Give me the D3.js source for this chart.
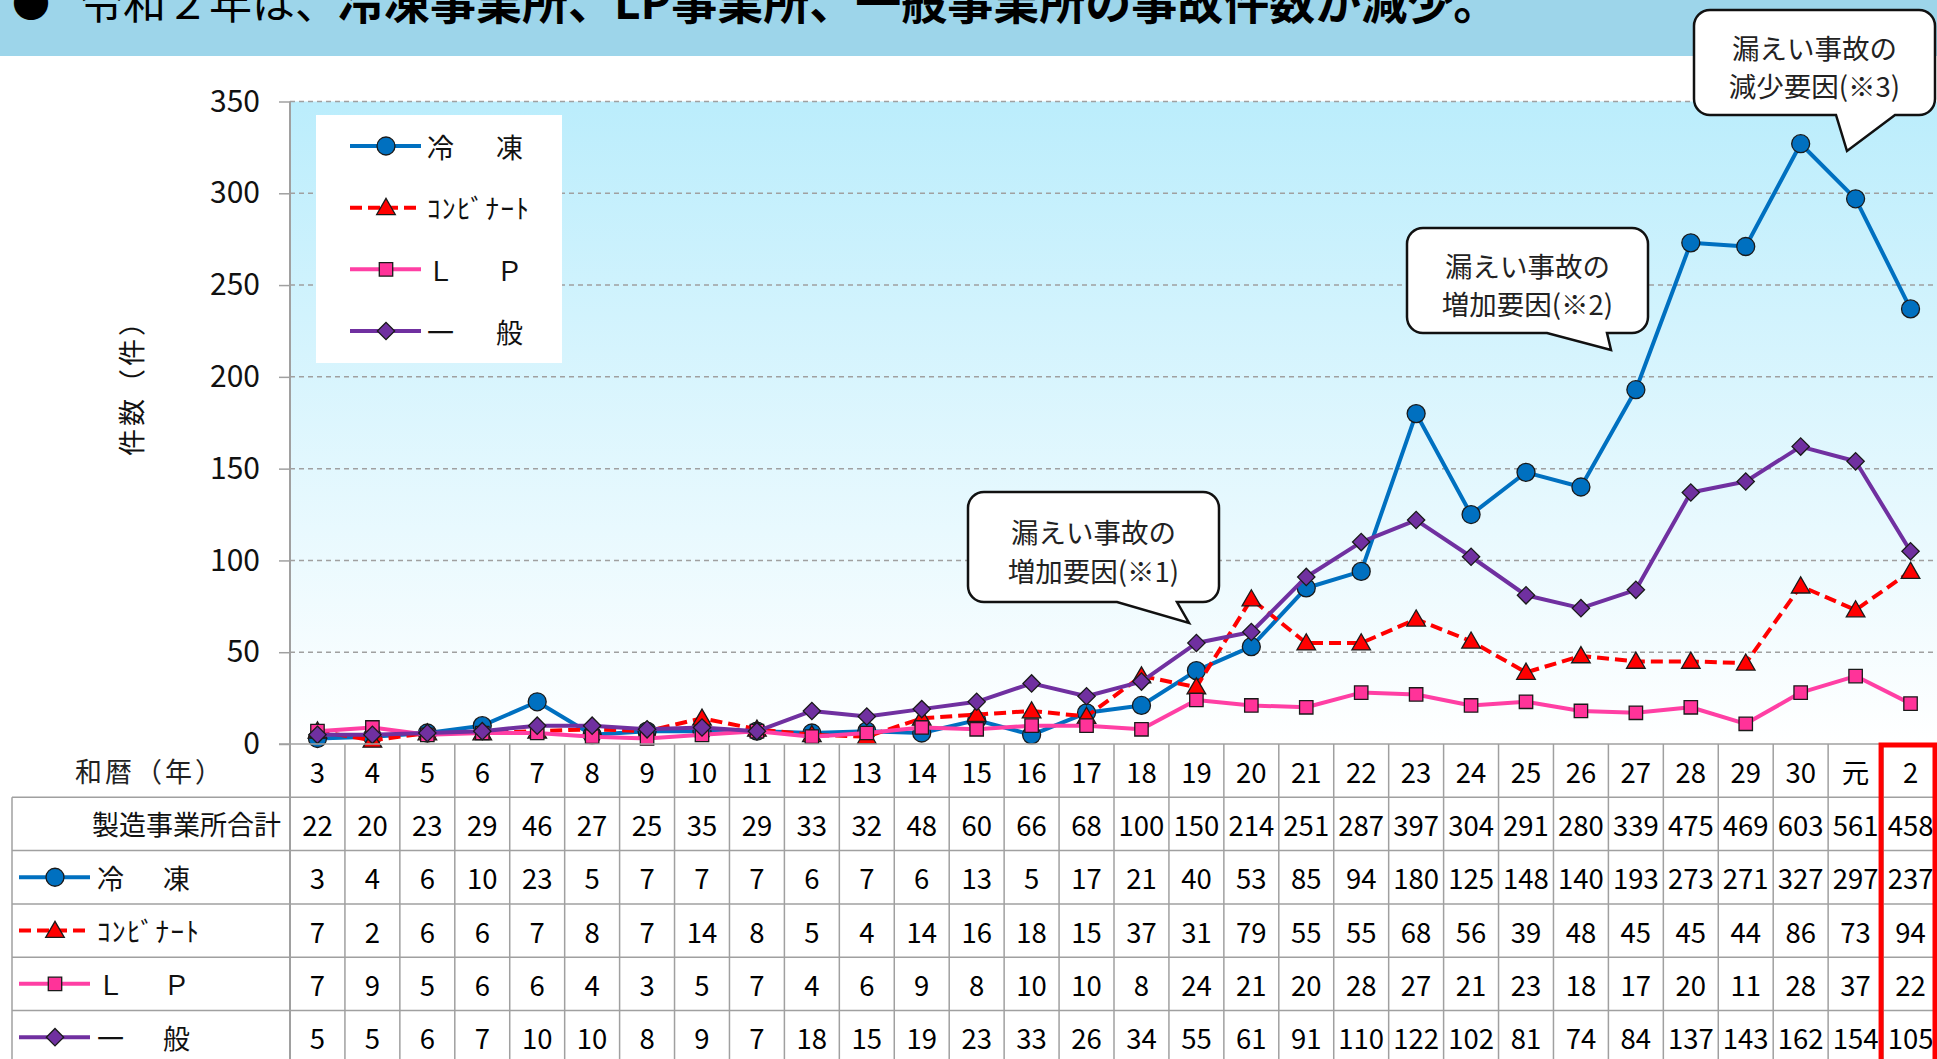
<!DOCTYPE html>
<html>
<head>
<meta charset="utf-8">
<script src="https://cdn.jsdelivr.net/npm/d3@7"></script>
<style>
  body { margin: 0; background: #fff; }
  svg { display: block; font-family: 'Noto Sans CJK JP', 'Noto Sans', sans-serif; }
</style>
</head>
<body>
<svg id="chart"></svg>
<script>
// 和暦（年）と件数
const years = ['3','4','5','6','7','8','9','10','11','12','13','14','15','16','17','18','19','20','21','22','23','24','25','26','27','28','29','30','元','2'];
const totals = [22,20,23,29,46,27,25,35,29,33,32,48,60,66,68,100,150,214,251,287,397,304,291,280,339,475,469,603,561,458];
const reito = [3,4,6,10,23,5,7,7,7,6,7,6,13,5,17,21,40,53,85,94,180,125,148,140,193,273,271,327,297,237];
const konbi = [7,2,6,6,7,8,7,14,8,5,4,14,16,18,15,37,31,79,55,55,68,56,39,48,45,45,44,86,73,94];
const lp = [7,9,5,6,6,4,3,5,7,4,6,9,8,10,10,8,24,21,20,28,27,21,23,18,17,20,11,28,37,22];
const ippan = [5,5,6,7,10,10,8,9,7,18,15,19,23,33,26,34,55,61,91,110,122,102,81,74,84,137,143,162,154,105];
const yTicks = [0, 50, 100, 150, 200, 250, 300, 350];
const seriesNames = ['冷　凍', 'ｺﾝﾋﾞﾅｰﾄ', 'Ｌ　Ｐ', '一　般'];
const noteLines = [
    ['漏えい事故の', '増加要因(※1)'],
    ['漏えい事故の', '増加要因(※2)'],
    ['漏えい事故の', '減少要因(※3)']
];

const size = { width: 1937, height: 1059 }
const plot = { left: 290, right: 1938, top: 101.5, bottom: 744 }
const rowH = 53.3

const styles = [
    { color: '#0070c0', fill: '#0070c0', symbol: 'circle', dash: null },
    { color: '#ff0000', fill: '#ff0000', symbol: 'triangle', dash: '12,6' },
    { color: '#ff3fa4', fill: '#ff3399', symbol: 'square', dash: null },
    { color: '#7030a0', fill: '#7030a0', symbol: 'diamond', dash: null }
]
const series = [reito, konbi, lp, ippan].map((values, i) => ({ name: seriesNames[i], values, ...styles[i] }))

const svg = d3.select('#chart')
    .attr('width', size.width)
    .attr('height', size.height)

const x = d3.scaleBand().domain(years).range([plot.left, plot.right])
const y = d3.scaleLinear().domain([0, 350]).range([plot.bottom, plot.top])
const cx = d => x(d) + x.bandwidth() / 2

function marker(sel, type) {
    const gen = {
        circle: d3.symbol(d3.symbolCircle, Math.PI * 81),
        triangle: d3.symbol(d3.symbolTriangle, 150),
        square: d3.symbol(d3.symbolSquare, 180),
        diamond: d3.symbol(d3.symbolSquare, 150)
    }[type]
    const p = sel.append('path').attr('d', gen())
    if (type === 'diamond') p.attr('transform', 'rotate(45)')
    if (type === 'triangle') p.attr('transform', 'translate(0,1.5)')
    return p
}

// title band
svg.append('rect').attr('x', 0).attr('y', 0).attr('width', size.width).attr('height', 56).attr('fill', '#9dd5ea')
svg.append('text').attr('x', 12).attr('y', 17).attr('font-size', 38).attr('fill', '#000').text('●')
const title = svg.append('text').attr('x', 80).attr('y', 19).attr('font-size', 43).attr('fill', '#000')
title.append('tspan').text('令和２年は、')
title.append('tspan').attr('font-weight', 'bold').attr('font-size', 46).text('冷凍事業所、LP事業所、一般事業所の事故件数が減少。')

// plot background
const grad = svg.append('defs').append('linearGradient')
    .attr('id', 'bg').attr('x1', 0).attr('y1', 0).attr('x2', 0).attr('y2', 1)
grad.append('stop').attr('offset', '0%').attr('stop-color', '#bbedfc')
grad.append('stop').attr('offset', '100%').attr('stop-color', '#ffffff')
svg.append('rect')
    .attr('x', plot.left).attr('y', plot.top)
    .attr('width', size.width - plot.left).attr('height', plot.bottom - plot.top)
    .attr('fill', 'url(#bg)')

// gridlines
svg.append('g').selectAll('line')
    .data(yTicks.filter(d => d > 0))
    .enter().append('line')
    .attr('x1', plot.left).attr('x2', size.width)
    .attr('y1', d => y(d)).attr('y2', d => y(d))
    .attr('stroke', '#a0a0a0').attr('stroke-width', 1.5).attr('stroke-dasharray', '5,4')

// y axis
const yAxis = svg.append('g')
    .attr('transform', `translate(${plot.left}, 0)`)
    .call(d3.axisLeft(y).tickValues(yTicks).tickSize(11).tickPadding(19))
yAxis.select('.domain').remove()
yAxis.selectAll('line').attr('stroke', '#a0a0a0').attr('stroke-width', 1.5)
yAxis.selectAll('text').attr('font-size', 30).attr('fill', '#111').attr('font-family', "'Noto Sans CJK JP', sans-serif")

svg.append('text')
    .attr('transform', 'translate(130, 381) rotate(-90)')
    .attr('text-anchor', 'middle').attr('dominant-baseline', 'central')
    .attr('font-size', 27).attr('letter-spacing', 3).attr('fill', '#111')
    .text('件数（件）')

// legend
const legend = svg.append('g')
legend.append('rect').attr('x', 316).attr('y', 115).attr('width', 246).attr('height', 248).attr('fill', '#fff')
const legendY = d3.scalePoint().domain(seriesNames).range([146, 331])
series.forEach(s => {
    const g = legend.append('g').attr('transform', `translate(0, ${legendY(s.name)})`)
    g.append('line').attr('x1', 350).attr('x2', 421)
        .attr('stroke', s.color).attr('stroke-width', 4).attr('stroke-dasharray', s.dash)
    marker(g.append('g').attr('transform', 'translate(386,0)'), s.symbol)
        .attr('fill', s.fill).attr('stroke', '#1a1a1a').attr('stroke-width', 1.3)
    g.append('text').attr('x', 427).attr('dominant-baseline', 'central')
        .attr('font-size', 27).attr('fill', '#111')
        .attr('letter-spacing', s.symbol === 'triangle' ? 1.5 : 7.5)
        .text(s.name)
})

// series lines and markers
const line = d3.line().x((d, i) => cx(years[i])).y(d => y(d))
series.forEach(s => {
    svg.append('path')
        .attr('d', line(s.values))
        .attr('fill', 'none')
        .attr('stroke', s.color).attr('stroke-width', 4)
        .attr('stroke-dasharray', s.dash)
        .attr('stroke-linejoin', 'round')
    svg.append('g').selectAll('g')
        .data(s.values)
        .enter().append('g')
        .attr('transform', (d, i) => `translate(${cx(years[i])}, ${y(d)})`)
        .each(function () {
            marker(d3.select(this), s.symbol)
                .attr('fill', s.fill).attr('stroke', '#1a1a1a').attr('stroke-width', 1.3)
        })
})

// x axis line
svg.append('line').attr('x1', plot.left - 11).attr('x2', size.width)
    .attr('y1', plot.bottom).attr('y2', plot.bottom)
    .attr('stroke', '#a0a0a0').attr('stroke-width', 1.5)
svg.append('line').attr('x1', plot.left).attr('x2', plot.left)
    .attr('y1', plot.top).attr('y2', size.height)
    .attr('stroke', '#a0a0a0').attr('stroke-width', 2)

// data table
const rowKeys = ['year', 'total', 'reito', 'konbi', 'lp', 'ippan']
const rowY = d3.scaleBand().domain(rowKeys).range([plot.bottom, plot.bottom + rowH * rowKeys.length])
const rowMid = k => rowY(k) + rowY.bandwidth() / 2
const table = svg.append('g')

table.selectAll('.vline')
    .data(years.slice(1))
    .enter().append('line')
    .attr('x1', d => x(d)).attr('x2', d => x(d))
    .attr('y1', plot.bottom).attr('y2', size.height)
    .attr('stroke', '#a0a0a0').attr('stroke-width', 1.5)
table.selectAll('.hline')
    .data(rowKeys.slice(1))
    .enter().append('line')
    .attr('x1', 12).attr('x2', size.width)
    .attr('y1', d => rowY(d)).attr('y2', d => rowY(d))
    .attr('stroke', '#a0a0a0').attr('stroke-width', 1.5)
table.append('line').attr('x1', 12).attr('x2', 12)
    .attr('y1', rowY('total')).attr('y2', size.height)
    .attr('stroke', '#a0a0a0').attr('stroke-width', 1.5)

const rowValues = [years, totals, reito, konbi, lp, ippan]
rowKeys.forEach((k, r) => {
    table.append('g').selectAll('text')
        .data(rowValues[r])
        .enter().append('text')
        .attr('x', (d, i) => cx(years[i]))
        .attr('y', rowMid(k))
        .attr('text-anchor', 'middle').attr('dominant-baseline', 'central')
        .attr('font-size', 27.5).attr('fill', '#000')
        .text(d => d)
})

table.append('text').attr('x', 150).attr('y', rowMid('year'))
    .attr('text-anchor', 'middle').attr('dominant-baseline', 'central')
    .attr('font-size', 27).attr('letter-spacing', 3).attr('fill', '#222').text('和暦（年）')
table.append('text').attr('x', 281).attr('y', rowMid('total'))
    .attr('text-anchor', 'end').attr('dominant-baseline', 'central')
    .attr('font-size', 27).attr('fill', '#111').text('製造事業所合計')

series.forEach((s, i) => {
    const g = table.append('g').attr('transform', `translate(0, ${rowMid(rowKeys[i + 2])})`)
    g.append('line').attr('x1', 19).attr('x2', 90)
        .attr('stroke', s.color).attr('stroke-width', 4).attr('stroke-dasharray', s.dash)
    marker(g.append('g').attr('transform', 'translate(55,0)'), s.symbol)
        .attr('fill', s.fill).attr('stroke', '#1a1a1a').attr('stroke-width', 1.3)
    g.append('text').attr('x', 97).attr('dominant-baseline', 'central')
        .attr('font-size', 27).attr('fill', '#111')
        .attr('letter-spacing', s.symbol === 'triangle' ? 1.5 : 6)
        .text(s.name)
})

// highlight for 令和2年
svg.append('rect')
    .attr('x', x('2') - 2).attr('y', plot.bottom + 1)
    .attr('width', x.bandwidth() - 1).attr('height', size.height)
    .attr('fill', 'none').attr('stroke', '#ff0000').attr('stroke-width', 5)

// callouts
const noteBoxes = [
    { x0: 968, y0: 492, x1: 1219, y1: 602, tl: 1117, tr: 1177, tx: 1189, ty: 623 },
    { x0: 1407, y0: 228, x1: 1648, y1: 333, tl: 1547, tr: 1607, tx: 1611, ty: 350 },
    { x0: 1694, y0: 10, x1: 1935, y1: 115, tl: 1836, tr: 1895, tx: 1847, ty: 151 }
]
function calloutPath(b, r) {
    const p = d3.path()
    p.moveTo(b.x0 + r, b.y0)
    p.lineTo(b.x1 - r, b.y0)
    p.arcTo(b.x1, b.y0, b.x1, b.y0 + r, r)
    p.lineTo(b.x1, b.y1 - r)
    p.arcTo(b.x1, b.y1, b.x1 - r, b.y1, r)
    p.lineTo(b.tr, b.y1)
    p.lineTo(b.tx, b.ty)
    p.lineTo(b.tl, b.y1)
    p.lineTo(b.x0 + r, b.y1)
    p.arcTo(b.x0, b.y1, b.x0, b.y1 - r, r)
    p.lineTo(b.x0, b.y0 + r)
    p.arcTo(b.x0, b.y0, b.x0 + r, b.y0, r)
    p.closePath()
    return p.toString()
}
noteBoxes.forEach((b, i) => {
    const g = svg.append('g')
    g.append('path').attr('d', calloutPath(b, 16))
        .attr('fill', '#fff').attr('stroke', '#111').attr('stroke-width', 2.5)
    const h = b.y1 - b.y0
    g.selectAll('text')
        .data(noteLines[i])
        .enter().append('text')
        .attr('x', (b.x0 + b.x1) / 2)
        .attr('y', (d, j) => b.y0 + h * (j === 0 ? 0.35 : 0.71))
        .attr('text-anchor', 'middle').attr('dominant-baseline', 'central')
        .attr('font-size', 27.5).attr('fill', '#222')
        .text(d => d)
})
</script>
</body>
</html>
